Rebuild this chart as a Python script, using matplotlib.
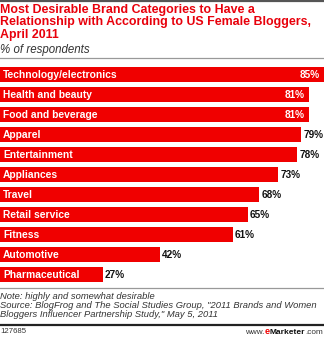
import matplotlib
matplotlib.use("Agg")
import matplotlib.pyplot as plt
from matplotlib.lines import Line2D

# data
categories = ["Technology/electronics", "Health and beauty", "Food and beverage",
              "Apparel", "Entertainment", "Appliances", "Travel",
              "Retail service", "Fitness", "Automotive", "Pharmaceutical"]
values = [85, 81, 81, 79, 78, 73, 68, 65, 61, 42, 27]
inside_labels = 3  # first three bars carry the value inside

title = ("Most Desirable Brand Categories to Have a\n"
         "Relationship with According to US Female Bloggers,\n"
         "April 2011")
subtitle = "% of respondents"
note = ("Note: highly and somewhat desirable\n"
        "Source: BlogFrog and The Social Studies Group, \"2011 Brands and Women\n"
        "Bloggers Influencer Partnership Study,\" May 5, 2011")
chart_id = "127685"

RED = "#f00000"
TITLE_RED = "#e8000b"
W, H = 324, 337
FONT = "Liberation Sans"

fig = plt.figure(figsize=(W / 100, H / 100), dpi=100)
fig.patch.set_facecolor("white")


def fy(px):
    # pixel row from top -> figure fraction
    return 1 - px / H


def fx(px):
    return px / W


# rules
fig.add_artist(Line2D([0, 1], [fy(0.8), fy(0.8)], color="#555555", lw=1.6))
fig.add_artist(Line2D([0, 1], [fy(57.5), fy(57.5)], color="#999999", lw=0.9))
fig.add_artist(Line2D([0, 1], [fy(287.5), fy(287.5)], color="#999999", lw=0.9))
fig.add_artist(Line2D([0, 1], [fy(324.5), fy(324.5)], color="#222222", lw=1.6))

fig.text(fx(0), fy(3.5), title, ha="left", va="top", color=TITLE_RED,
         fontsize=8.9, fontweight="bold", family=FONT, linespacing=1.06)
fig.text(fx(0), fy(43.5), subtitle, ha="left", va="top", color="#333333",
         fontsize=8.3, style="italic", family=FONT)
fig.text(fx(0), fy(292), note, ha="left", va="top", color="#333333",
         fontsize=6.75, style="italic", family=FONT, linespacing=1.02)
fig.text(fx(0), fy(333), chart_id, ha="left", va="baseline",
         fontsize=5.6, family=FONT, color="#333333")

# www.eMarketer.com built from pieces, right edge at x=323
pieces = [("www.", 5.9, "normal", "#333333"),
          ("e", 6.5, "bold", RED),
          ("Marketer", 6.0, "bold", "#111111"),
          (".com", 5.9, "normal", "#333333")]
r = fig.canvas.get_renderer()
widths = []
for s, size, wt, col in pieces:
    t = fig.text(0, 0, s, fontsize=size, fontweight=wt, family=FONT)
    widths.append(t.get_window_extent(r).width)
    t.remove()
x = 323 - sum(widths)
for (s, size, wt, col), w in zip(pieces, widths):
    fig.text(x / W, fy(333.5), s, ha="left", va="baseline", fontsize=size,
             fontweight=wt, family=FONT, color=col)
    x += w

# bar area: row centres 74.5 ... 274.5 px, pitch 20
ax = fig.add_axes([0, fy(284.5), 1, (284.5 - 64.5) / H])
ax.set_xlim(0, 85)
ax.set_ylim(len(values) - 0.5, -0.5)
ax.axis("off")
ypos = list(range(len(values)))
ax.barh(ypos, values, height=0.76, color=RED, edgecolor="none")

px_per = W / 85.0
for i, (c, v) in enumerate(zip(categories, values)):
    ax.text(3 / px_per, i, c, ha="left", va="center", color="white",
            fontsize=7.4, fontweight="bold", family=FONT)
    if i < inside_labels:
        ax.text(v - 4 / px_per, i, f"{v}%", ha="right", va="center",
                color="white", fontsize=7.2, fontweight="bold", family=FONT)
    else:
        ax.text(v + 2 / px_per, i, f"{v}%", ha="left", va="center",
                color="#111111", fontsize=7.2, fontweight="bold", family=FONT)

fig.savefig("out.png", dpi=100)
